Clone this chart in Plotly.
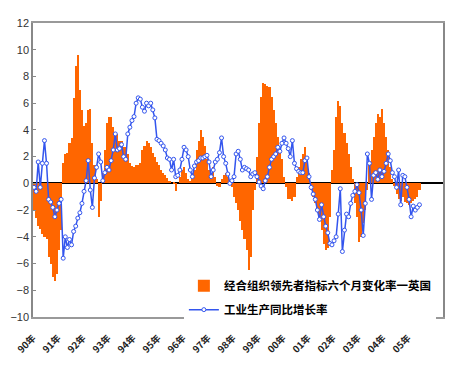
import plotly.graph_objects as go

# Monthly series, Jan 1990 .. Jun 2005
oecd_cli_6m_uk = [
    -2.0, -2.6, -3.2, -3.4, -3.8, -4.0, -4.2, -5.5, -6.0, -7.0, -7.3, -6.8,
    -5.0, -3.5, 1.5, 2.2, 2.3, 3.0, 3.4, 6.4, 8.8, 9.6, 7.0, 5.5,
    4.3, 4.5, 5.5, 5.6, 3.0, 1.4, 0.3, -2.5, -1.3, 0.8, 2.5, 4.5,
    5.0, 5.0, 4.2, 3.8, 3.7, 3.2, 3.2, 2.7, 2.7, 2.2, 1.5, 1.3,
    1.2, 1.4, 1.4, 1.5, 2.5, 2.8, 3.2, 3.0, 2.7, 2.3, 2.0, 1.6,
    1.4, 1.0, 0.8, 0.6, 0.4, 0.2, 0.0, 0.1, -0.6, 0.0, 0.5, 1.0,
    1.2, 0.8, 0.3, 0.2, 0.5, 1.0, 2.5, 3.2, 4.0, 3.5, 2.8, 1.8,
    1.0, 0.8, 1.2, 0.5, -0.2, -0.3, 0.3, 0.6, 0.8, 0.5, 0.0, -0.3,
    -1.0, -1.5, -2.0, -2.8, -3.5, -4.2, -5.0, -6.5, -5.5, -2.0, -0.5, 2.0,
    4.5, 6.5, 7.5, 7.4, 7.3, 7.2, 6.5, 5.5, 4.5, 3.5, 2.5, 1.8,
    0.5, -0.3, -1.2, -1.2, -1.3, -1.0, 0.5, 1.2, 1.8, 2.2, 2.7, 2.0,
    0.8, -0.5, -1.0, -1.5, -2.0, -2.5, -3.5, -4.5, -5.0, -4.8, -2.5, 1.0,
    2.5, 5.0, 6.2, 5.8, 4.5, 3.8, 3.0, 2.2, 1.2, 0.3, -1.5, -2.5,
    -4.4, -4.0, -3.0, -2.0, -0.5, 1.5, 2.5, 3.5, 4.5, 5.2, 5.0, 5.6,
    4.5, 3.5, 2.5, 1.2, 0.3, -0.2, -0.8, -1.2, -1.3, -1.0, -1.4, -1.5,
    -1.6, -1.5, -1.3, -1.2, -1.0, -0.5,
]

ip_yoy = [
    -0.3, -0.6, 1.6, -0.3, 1.5, 3.2, 1.5, -1.2, -1.4, -1.8, -2.5, -2.0,
    -1.5, -1.2, -5.6, -4.0, -4.8, -4.2, -4.6, -3.6, -3.2, -2.6, -2.2, -1.5,
    -0.6, 0.2, 1.7, -0.5, -1.8, 0.4, 1.2, 2.2, 1.6, 0.2, 0.8, 1.2,
    1.0, 1.7, 2.5, 3.7, 2.5, 2.6, 2.9, 2.0, 1.8, 3.7, 4.2, 4.7,
    5.0, 6.0, 6.4, 6.3, 5.7, 5.4, 6.0, 5.8, 6.0, 5.5, 4.9, 3.3,
    3.2, 3.0, 2.8, 2.5, 1.9, 1.8, 1.0, 1.8, 0.5, 0.6, 1.0, 1.8,
    2.7, 2.5, 2.0, 1.0, 0.5, 1.3, 1.6, 1.7, 1.9, 1.9, 2.0, 2.1,
    1.6, 0.5, 1.0, 1.6, 1.8, 2.3, 3.4, 2.0, 1.5, 0.7, 0.0, 0.2,
    0.5, 2.2, 2.4, 1.8, 1.0, 1.2, 1.1, 1.0, 0.5, 0.7, 0.8, 0.5,
    0.1, -0.2, -0.4, 0.2, 0.5, 1.2, 1.8, 2.0, 2.2, 2.7, 2.4, 3.0,
    3.4, 3.0, 2.6, 2.0, 3.2, 1.5, 1.1, 0.9, 0.8, 0.8, 1.7, 1.9,
    0.5, -0.3, -0.8, -1.2, -2.0, -2.7, -1.6, -2.5, -3.2, -3.7, -4.5, -4.6,
    -4.3, -4.0, -2.3, -0.4, -5.1, -3.5, -2.3, -2.5, -1.5, -0.9, -0.6, -0.1,
    -0.7, -2.0, -3.9, -1.5, 2.2, 1.5, -1.2, 0.6, 0.8, 0.3, 1.0, 0.5,
    0.9, 1.5, 2.2, 1.7, 0.8, 0.5, -0.3, 1.0, -1.6, 0.6, 0.5, -0.3,
    -1.2, -2.5, -1.7, -2.0, -1.8, -1.6,
]

year_labels = ["90年", "91年", "92年", "93年", "94年", "95年", "96年", "97年",
               "98年", "99年", "00年", "01年", "02年", "03年", "04年", "05年"]
y_ticks = [-10, -8, -6, -4, -2, 0, 2, 4, 6, 8, 10, 12]

name_bar = "经合组织领先者指标六个月变化率一英国"
name_line = "工业生产同比增长率"

months = list(range(len(oecd_cli_6m_uk)))
tick_pos = [12 * i - 0.5 for i in range(len(year_labels))]

fig = go.Figure()
fig.add_trace(go.Bar(
    x=months, y=oecd_cli_6m_uk, name=name_bar, width=1.0,
    marker=dict(color="#FF6600", line=dict(width=0)),
    legendgroup="a",
))
fig.add_trace(go.Scatter(
    x=list(range(len(ip_yoy))), y=ip_yoy, name=name_line, mode="lines+markers",
    line=dict(color="#3355EE", width=1.5),
    marker=dict(symbol="circle", size=4, color="white",
                line=dict(color="#3355EE", width=1)),
    legendgroup="b",
))

fig.update_layout(
    width=450, height=370,
    margin=dict(l=33, r=7, t=23, b=53, autoexpand=False),
    paper_bgcolor="white", plot_bgcolor="white",
    bargap=0,
    showlegend=True,
    legend=dict(
        x=0.368, y=0.156, xanchor="left", yanchor="top",
        bgcolor="white", borderwidth=0,
        font=dict(family="Noto Sans CJK SC", size=11.5, color="black", weight="bold"),
        traceorder="grouped", tracegroupgap=5,
        itemwidth=30,
    ),
    xaxis=dict(
        range=[-0.5, 196.3],
        tickmode="array", tickvals=tick_pos, ticktext=year_labels,
        tickangle=-45, ticks="", ticklabelstandoff=10,
        tickfont=dict(family="Noto Sans CJK SC", size=9.5, color="#222", weight="bold"),
        showgrid=False, zeroline=False, automargin=False,
        showline=True, linecolor="#999", linewidth=1.5, mirror=True,
    ),
    yaxis=dict(
        range=[-10, 12], tickmode="array", tickvals=y_ticks,
        ticks="inside", ticklen=3, tickcolor="#888",
        tickfont=dict(family="Liberation Sans", size=11, color="#333"),
        showgrid=False, automargin=False,
        zeroline=True, zerolinecolor="black", zerolinewidth=1.6,
        showline=True, linecolor="#888", linewidth=1.5, mirror=True,
    ),
    hovermode=False,
)

fig.write_html(
    "out.html",
    config={"displayModeBar": False},
    post_script="document.body.style.margin='0';document.body.style.padding='0';",
)
